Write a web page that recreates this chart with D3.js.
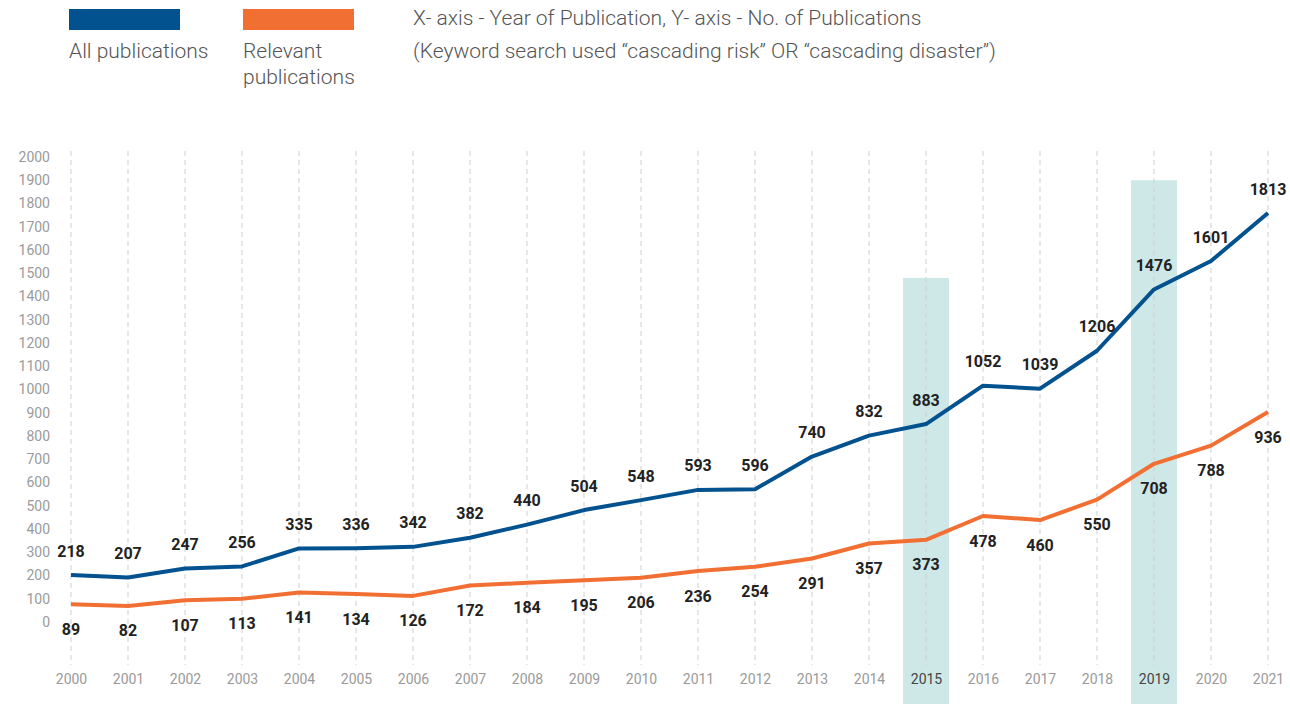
<!DOCTYPE html>
<html>
<head>
<meta charset="utf-8">
<script src="https://cdn.jsdelivr.net/npm/d3@7"></script>
<style>
  body { margin: 0; background: #fff; }
  svg text { font-family: Roboto, "Noto Sans", sans-serif; }
</style>
</head>
<body>
<script>
// donnees
const annees = [2000, 2001, 2002, 2003, 2004, 2005, 2006, 2007, 2008, 2009, 2010,
                2011, 2012, 2013, 2014, 2015, 2016, 2017, 2018, 2019, 2020, 2021];
const toutes = [218, 207, 247, 256, 335, 336, 342, 382, 440, 504, 548,
                593, 596, 740, 832, 883, 1052, 1039, 1206, 1476, 1601, 1813];
const pertinentes = [89, 82, 107, 113, 141, 134, 126, 172, 184, 195, 206,
                     236, 254, 291, 357, 373, 478, 460, 550, 708, 788, 936];
const anneesSurlignees = [2015, 2019];
const hautSurlignage = [1480, 1900];   // hauteur des bandes, en unites de l'axe
const graduationsY = d3.range(0, 2001, 100);

const largeur = 1290, hauteur = 704;

const svg = d3.select("body").append("svg")
    .attr("width", largeur)
    .attr("height", hauteur);

// echelles
const echelleX = d3.scalePoint()
    .domain(annees)
    .range([71, 1268]);

// echelle des courbes
const echelleY = d3.scaleLinear()
    .domain([0, 2000])
    .range([624.5, 170.5]);

// echelle des etiquettes de l'axe Y (un peu plus etiree que les courbes)
const echelleAxeY = d3.scaleLinear()
    .domain([0, 2000])
    .range([622, 157]);

// bandes de mise en evidence
svg.selectAll(".bande").data(anneesSurlignees)
    .enter().append("rect")
    .attr("class", "bande")
    .attr("x", d => echelleX(d) - 23)
    .attr("width", 46)
    .attr("y", (d, i) => echelleAxeY(hautSurlignage[i]))
    .attr("height", (d, i) => hauteur - echelleAxeY(hautSurlignage[i]))
    .attr("fill", "#cde8e6");

// lignes verticales pointillees
svg.selectAll(".grille").data(annees)
    .enter().append("line")
    .attr("class", "grille")
    .attr("x1", d => echelleX(d))
    .attr("x2", d => echelleX(d))
    .attr("y1", 151)
    .attr("y2", 665)
    .attr("stroke", "#cfcfcf")
    .attr("stroke-width", 1)
    .attr("stroke-dasharray", "5,4");

// axe Y
const axeY = svg.append("g")
    .attr("transform", "translate(50,0)")
    .call(d3.axisLeft(echelleAxeY).tickValues(graduationsY).tickSize(0).tickPadding(0)
        .tickFormat(d3.format("d")));
axeY.select(".domain").remove();
axeY.selectAll("text")
    .attr("font-size", 14)
    .attr("fill", "#9a9a9a");

// axe X
const axeX = svg.append("g")
    .attr("transform", "translate(0,674)")
    .call(d3.axisBottom(echelleX).tickSize(0).tickPadding(0).tickFormat(d3.format("d")));
axeX.select(".domain").remove();
axeX.selectAll("text")
    .attr("font-size", 14)
    .attr("fill", d => anneesSurlignees.includes(d) ? "#444" : "#9a9a9a");

// courbes
const ligne = d3.line()
    .x((d, i) => echelleX(annees[i]))
    .y(d => echelleY(d));

svg.append("path")
    .datum(pertinentes)
    .attr("d", ligne)
    .attr("fill", "none")
    .attr("stroke", "#f26f33")
    .attr("stroke-width", 4)
    .attr("stroke-linejoin", "round");

svg.append("path")
    .datum(toutes)
    .attr("d", ligne)
    .attr("fill", "none")
    .attr("stroke", "#02528f")
    .attr("stroke-width", 4)
    .attr("stroke-linejoin", "round");

// etiquettes des valeurs
svg.selectAll(".etiqToutes").data(toutes)
    .enter().append("text")
    .attr("class", "etiqToutes")
    .attr("x", (d, i) => echelleX(annees[i]))
    .attr("y", d => echelleY(d) - 24)
    .attr("dy", "0.35em")
    .attr("text-anchor", "middle")
    .attr("font-size", 16)
    .attr("font-weight", 700)
    .attr("fill", "#222")
    .text(d => d);

svg.selectAll(".etiqPert").data(pertinentes)
    .enter().append("text")
    .attr("class", "etiqPert")
    .attr("x", (d, i) => echelleX(annees[i]))
    .attr("y", d => echelleY(d) + 25)
    .attr("dy", "0.35em")
    .attr("text-anchor", "middle")
    .attr("font-size", 16)
    .attr("font-weight", 700)
    .attr("fill", "#222")
    .text(d => d);

// legende
const legende = [
    {nom: ["All publications"], couleur: "#02528f", x: 69},
    {nom: ["Relevant", "publications"], couleur: "#f26f33", x: 243}
];

const gLeg = svg.selectAll(".legende").data(legende)
    .enter().append("g")
    .attr("class", "legende")
    .attr("transform", d => "translate(" + d.x + ",0)");

gLeg.append("rect")
    .attr("y", 9)
    .attr("width", 111)
    .attr("height", 21)
    .attr("fill", d => d.couleur);

gLeg.each(function(d) {
    d3.select(this).selectAll("text").data(d.nom)
        .enter().append("text")
        .attr("y", (t, i) => 51 + i * 26)
        .attr("dy", "0.35em")
        .attr("font-size", 21)
        .attr("font-weight", 300)
        .attr("fill", "#555")
        .text(t => t);
});

const notes = [
    "X- axis - Year of Publication, Y- axis - No. of Publications",
    "(Keyword search used \u201ccascading risk\u201d OR \u201ccascading disaster\u201d)"
];

svg.selectAll(".note").data(notes)
    .enter().append("text")
    .attr("class", "note")
    .attr("x", 413)
    .attr("y", (d, i) => 18 + i * 33)
    .attr("dy", "0.35em")
    .attr("font-size", 21)
    .attr("font-weight", 300)
    .attr("fill", "#555")
    .text(d => d);
</script>
</body>
</html>
